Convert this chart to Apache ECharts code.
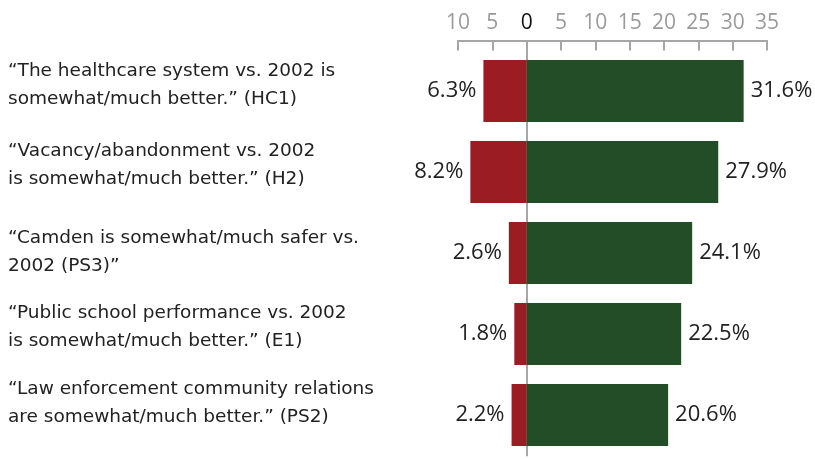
<!DOCTYPE html>
<html><head><meta charset="utf-8">
<script src="https://cdn.jsdelivr.net/npm/echarts@6/dist/echarts.min.js"></script>
<style>html,body{margin:0;padding:0;background:#fff}#c{width:815px;height:459px}</style>
</head><body><div id="c"></div>
<script>
const categories = [
  '\u201CThe healthcare system vs. 2002 is\nsomewhat/much better.\u201D (HC1)',
  '\u201CVacancy/abandonment vs. 2002\nis somewhat/much better.\u201D (H2)',
  '\u201CCamden is somewhat/much safer vs.\n2002 (PS3)\u201D',
  '\u201CPublic school performance vs. 2002\nis somewhat/much better.\u201D (E1)',
  '\u201CLaw enforcement community relations\nare somewhat/much better.\u201D (PS2)'
];
const worseValues = [6.3, 8.2, 2.6, 1.8, 2.2];
const betterValues = [31.6, 27.9, 24.1, 22.5, 20.6];
const axisMin = -10, axisMax = 35, axisStep = 5;
// layout only: how far each category label sits above its bar's centre (px)
const labelLift = [6, 7, 1, 7, 11.5];

const chart = echarts.init(document.getElementById('c'));
const numFont = '"Open Sans", Lato, sans-serif';
const catFont = '"DejaVu Sans", sans-serif';
const rich = {t: {fontSize: 18.5, lineHeight: 28, fontFamily: catFont, color: '#222'}};
labelLift.forEach((d, i) => { rich['g' + i] = {fontSize: 1, lineHeight: 2 * d}; });

chart.setOption({
  animation: false,
  grid: {left: 458, right: 48, top: 50.5, bottom: 3.5, containLabel: false, outerBoundsMode: 'none'},
  xAxis: {
    type: 'value', position: 'top', offset: 10,
    min: axisMin, max: axisMax, interval: axisStep,
    splitLine: {show: false},
    axisLine: {show: true, lineStyle: {color: '#a6a6a6', width: 2}},
    axisTick: {show: true, inside: true, length: 10, lineStyle: {color: '#a6a6a6', width: 2}},
    axisLabel: {
      margin: 7, fontSize: 21, fontFamily: numFont,
      formatter: v => String(Math.abs(v)),
      color: v => (Number(v) === 0 ? '#111' : '#9a9a9a')
    }
  },
  yAxis: {
    type: 'category', inverse: true, data: categories,
    axisLine: {show: true, onZero: true, lineStyle: {color: '#a6a6a6', width: 2}},
    axisTick: {show: false},
    axisLabel: {
      align: 'left', margin: 450, fontSize: 18.5, lineHeight: 28,
      fontFamily: catFont, color: '#222', rich: rich,
      formatter: (v, i) => v.split('\n').map(s => '{t|' + s + '}').join('\n') +
        (labelLift[i] > 0 ? '\n{g' + i + '| }' : '')
    }
  },
  series: [
    {
      type: 'bar', stack: 'a', barWidth: 62, z: 1,
      data: worseValues.map(v => -v),
      itemStyle: {color: '#9b1c22'},
      label: {show: true, position: 'left', distance: 7, fontSize: 22, fontFamily: numFont,
        color: '#222', formatter: p => Math.abs(p.value).toFixed(1) + '%'}
    },
    {
      type: 'bar', stack: 'a', barWidth: 62, z: 1,
      data: betterValues,
      itemStyle: {color: '#224d27'},
      label: {show: true, position: 'right', distance: 7, fontSize: 22, fontFamily: numFont,
        color: '#222', formatter: p => p.value.toFixed(1) + '%'}
    }
  ]
});
</script></body></html>
